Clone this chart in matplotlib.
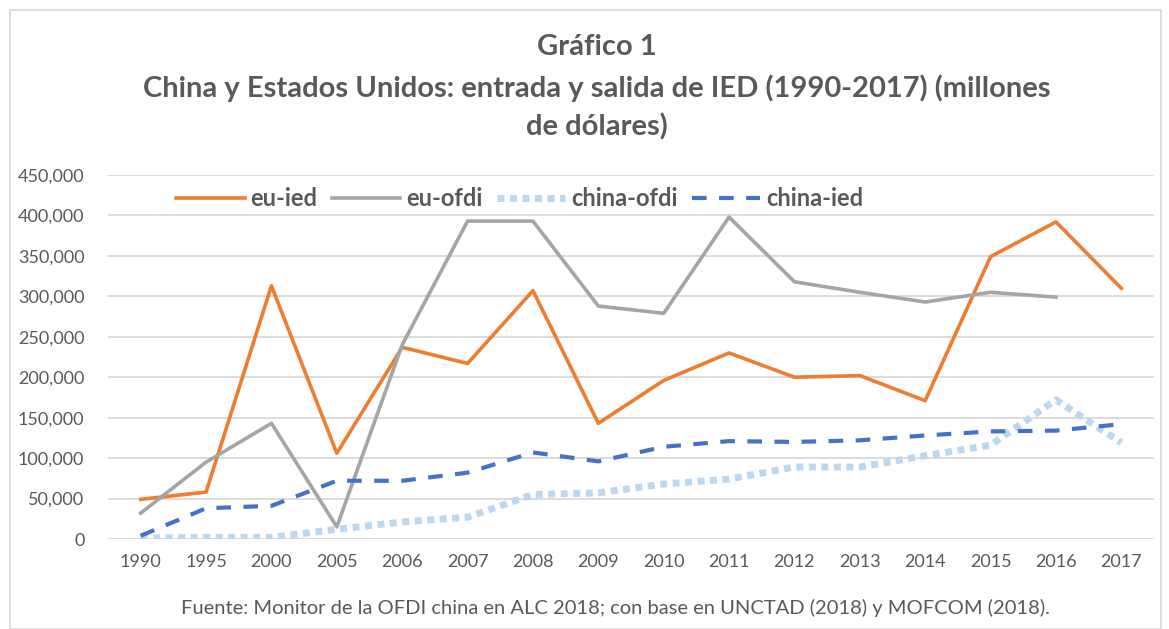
import matplotlib
matplotlib.use("Agg")
import matplotlib.pyplot as plt
from matplotlib.ticker import FuncFormatter, MultipleLocator
from matplotlib.patches import Rectangle

years = ["1990", "1995", "2000", "2005", "2006", "2007", "2008", "2009",
         "2010", "2011", "2012", "2013", "2014", "2015", "2016", "2017"]
eu_ied = [49000, 58000, 313000, 106000, 237000, 217000, 307000, 143000,
          196000, 230000, 200000, 202000, 171000, 349000, 392000, 310000]
eu_ofdi = [32000, 95000, 143000, 15000, 240000, 393000, 393000, 288000,
           279000, 398000, 318000, 305000, 293000, 305000, 299000, None]
china_ofdi = [1000, 2000, 2000, 12000, 21000, 27000, 55000, 57000,
              68000, 74000, 89000, 89000, 103000, 116000, 172000, 119000]
china_ied = [4000, 38000, 41000, 72000, 72000, 82000, 107000, 96000,
             114000, 121000, 120000, 122000, 128000, 133000, 134000, 142000]

TXT = "#595959"
FONT = ["Lato", "DejaVu Sans"]
plt.rcParams["font.family"] = FONT

fig = plt.figure(figsize=(11.69, 6.29), dpi=100)
fig.patches.append(Rectangle((10 / 1169, 0), 1151 / 1169, 619 / 629, transform=fig.transFigure,
                             fill=False, edgecolor="#d9d9d9", linewidth=1.2))

ax = fig.add_axes([108 / 1169, 1 - 539 / 629, (1154 - 108) / 1169, (539 - 175) / 629])
x = list(range(len(years)))

ax.plot(x, eu_ied, color="#ed7d31", lw=2.6, label="eu-ied")
xo = [i for i, v in zip(x, eu_ofdi) if v is not None]
yo = [v for v in eu_ofdi if v is not None]
ax.plot(xo, yo, color="#a5a5a5", lw=2.6, label="eu-ofdi")
ax.plot(x, china_ofdi, color="#bdd7ee", lw=5.0, linestyle=(0, (1.0, 0.8)),
        dash_capstyle="butt", label="china-ofdi")
ax.plot(x, china_ied, color="#4472c4", lw=3.0, linestyle=(0, (3.5, 3.0)),
        dash_capstyle="butt", label="china-ied")

ax.set_xlim(-0.5, len(years) - 0.5)
ax.set_ylim(0, 450000)
ax.yaxis.set_major_locator(MultipleLocator(50000))
ax.yaxis.set_major_formatter(FuncFormatter(lambda v, p: f"{int(v):,}"))
ax.set_xticks(x)
ax.set_xticklabels(years)
ax.grid(axis="y", color="#d9d9d9", lw=1.3)
ax.set_axisbelow(True)
for s in ax.spines.values():
    s.set_visible(False)
ax.tick_params(axis="both", length=0, labelsize=13, colors=TXT)
ax.tick_params(axis="x", pad=11)
ax.tick_params(axis="y", pad=17)

leg = ax.legend(loc="upper left", bbox_to_anchor=(0.045, 1.025), ncol=4, frameon=False,
                handlelength=2.9, columnspacing=0.6, handletextpad=0.25,
                prop={"weight": "bold", "size": 17})
for t in leg.get_texts():
    t.set_color(TXT)

fig.text(597 / 1169, 1 - 47 / 629, "Gráfico 1", ha="center", va="center",
         fontsize=21, weight="bold", color=TXT)
fig.text(597 / 1169, 1 - 88 / 629, "China y Estados Unidos: entrada y salida de IED (1990-2017) (millones",
         ha="center", va="center", fontsize=21, weight="bold", color=TXT)
fig.text(597 / 1169, 1 - 127 / 629, "de dólares)", ha="center", va="center",
         fontsize=21, weight="bold", color=TXT)
fig.text(615 / 1169, 1 - 608 / 629,
         "Fuente: Monitor de la OFDI china en ALC 2018; con base en UNCTAD (2018) y MOFCOM (2018).",
         ha="center", va="center", fontsize=14.5, color=TXT)

fig.savefig("out.png", dpi=100)
